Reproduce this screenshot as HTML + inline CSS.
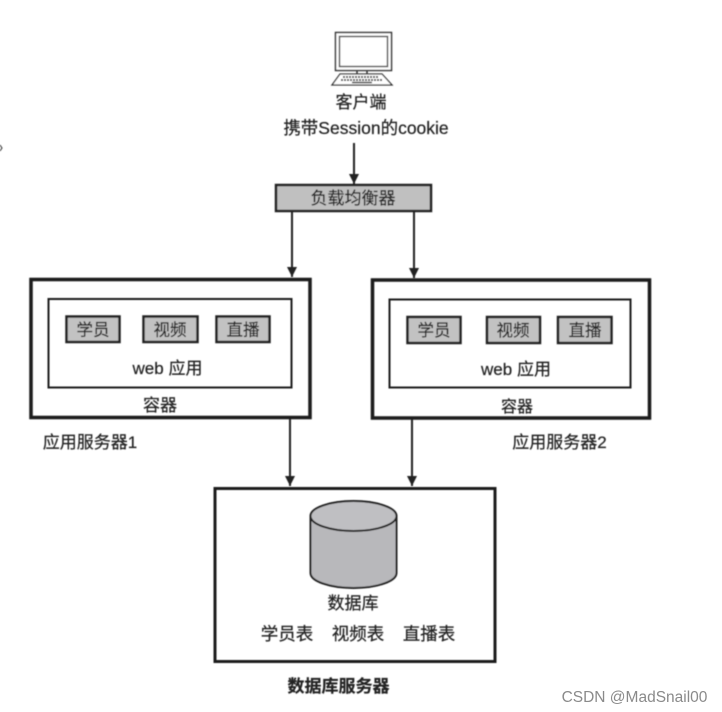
<!DOCTYPE html>
<html><head><meta charset="utf-8"><style>
html,body{margin:0;padding:0;background:#fff;width:722px;height:712px;overflow:hidden}
svg{display:block}
text{font-family:"Liberation Sans","Noto Sans CJK SC",sans-serif;fill:#222;stroke:#222;stroke-width:.2px;text-anchor:middle;font-size:17px}
.b{fill:none;stroke:#1a1a1a}
.g{fill:#c2c2c2;stroke:#222;stroke-width:2.500}
</style></head><body>
<svg width="722" height="712" viewBox="0 0 722 712" xmlns="http://www.w3.org/2000/svg">
<defs>
<marker id="a" markerWidth="12" markerHeight="12" refX="10" refY="5" orient="auto" markerUnits="userSpaceOnUse"><path d="M0 0L10 5L0 10Z" fill="#222"/></marker>
<filter id="s" filterUnits="userSpaceOnUse" x="0" y="0" width="722" height="712"><feGaussianBlur stdDeviation="0.45"/></filter>
</defs>
<g filter="url(#s)">
<!-- monitor -->
<rect x="335.500" y="32.500" width="56" height="38" fill="#fff" stroke="#333" stroke-width="1.500"/>
<rect x="339.500" y="36.500" width="48" height="30" fill="#fff" stroke="#555" stroke-width="1.500"/>
<path d="M357 71V74M367 71V74" stroke="#333" stroke-width="1.500"/>
<path d="M340 74H382L392 85H332Z" fill="#fff" stroke="#333" stroke-width="1.300"/>
<path d="M343 77H379M341 80H382" stroke="#444" stroke-width="2" stroke-dasharray="2 1"/>
<path d="M352 82.500H372" stroke="#444" stroke-width="1.500"/>
<text x="361" y="108">客户端</text>
<text x="366" y="134" style="font-size:17.500px">携带Session的cookie</text>

<line x1="354" y1="143" x2="354" y2="184" stroke="#222" stroke-width="2" marker-end="url(#a)"/>
<rect x="276" y="185" width="155" height="26" fill="#c0c0c0" stroke="#222" stroke-width="2.500"/>
<text x="353" y="204">负载均衡器</text>

<line x1="292" y1="212" x2="292" y2="277" stroke="#222" stroke-width="2" marker-end="url(#a)"/>
<line x1="414" y1="212" x2="414" y2="278" stroke="#222" stroke-width="2" marker-end="url(#a)"/>

<!-- server 1 -->
<rect x="31" y="279.500" width="279" height="138" class="b" stroke-width="3.500" fill="#fff"/>
<rect x="48.500" y="299" width="243" height="88.500" class="b" stroke-width="2"/>
<rect x="66.500" y="316.500" width="53" height="25.500" class="g"/>
<rect x="143.500" y="316.500" width="54" height="25.500" class="g"/>
<rect x="216.500" y="316.500" width="53" height="25.500" class="g"/>
<text x="93" y="335.500" style="font-size:16.500px">学员</text>
<text x="170" y="335.500" style="font-size:16.500px">视频</text>
<text x="243" y="335.500" style="font-size:16.500px">直播</text>
<text x="167.500" y="374">web 应用</text>
<text x="160" y="411">容器</text>
<text x="90" y="448">应用服务器1</text>

<!-- server 2 -->
<rect x="372.500" y="280" width="277" height="138" class="b" stroke-width="3.500" fill="#fff"/>
<rect x="389.500" y="299.500" width="241" height="88" class="b" stroke-width="2"/>
<rect x="407.500" y="317" width="53" height="26" class="g"/>
<rect x="487" y="317" width="53" height="26" class="g"/>
<rect x="558" y="317" width="53.500" height="26" class="g"/>
<text x="434" y="336" style="font-size:16.500px">学员</text>
<text x="513" y="336" style="font-size:16.500px">视频</text>
<text x="585" y="336" style="font-size:16.500px">直播</text>
<text x="516" y="375">web 应用</text>
<text x="517" y="412" style="font-size:16px">容器</text>
<text x="559.500" y="448">应用服务器2</text>

<line x1="290" y1="419" x2="290" y2="486" stroke="#222" stroke-width="2" marker-end="url(#a)"/>
<line x1="412" y1="419" x2="412" y2="486" stroke="#222" stroke-width="2" marker-end="url(#a)"/>

<!-- db -->
<rect x="215" y="488.500" width="280" height="173" class="b" stroke-width="3"/>
<path d="M310.500 516V573A43 15 0 0 0 396.500 573V516Z" fill="#b8b8bb" stroke="#222" stroke-width="2"/>
<ellipse cx="353.500" cy="516" rx="43" ry="15" fill="#bfbfc2" stroke="#222" stroke-width="2"/>
<text x="353" y="609">数据库</text>
<text x="287" y="640" style="font-size:17.500px">学员表</text>
<text x="358" y="640" style="font-size:17.500px">视频表</text>
<text x="429" y="640" style="font-size:17.500px">直播表</text>
<text x="338.500" y="692" style="font-weight:bold">数据库服务器</text>

<path d="M0 145L2 148L0 151" fill="none" stroke="#333" stroke-width="1"/>
</g>
<text x="634.500" y="702" style="font-size:15.500px;fill:#8a8a8a;stroke:none">CSDN @MadSnail00</text>
</svg>
</body></html>
